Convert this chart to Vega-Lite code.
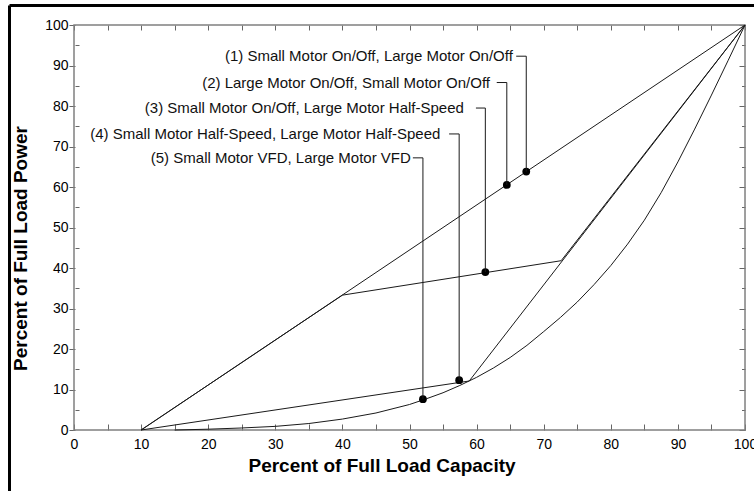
{
  "$schema": "https://vega.github.io/schema/vega-lite/v6.json",
  "width": 745,
  "height": 486,
  "autosize": {"type": "none"},
  "padding": {"left": 9, "top": 5, "right": 0, "bottom": 0},
  "background": "white",
  "config": {"view": {"stroke": null}, "font": "Liberation Sans"},
  "datasets": {
    "frame": [{"x0": 0, "x1": 100, "y0": 0, "y1": 100}],
    "curves": [
      {"curve": "1-2", "x": 10, "y": 0},
      {"curve": "1-2", "x": 100, "y": 100},
      {"curve": "3", "x": 10, "y": 0},
      {"curve": "3", "x": 40, "y": 33.3},
      {"curve": "3", "x": 72.6, "y": 41.8},
      {"curve": "3", "x": 100, "y": 100},
      {"curve": "4", "x": 10, "y": 0},
      {"curve": "4", "x": 58.9, "y": 12.1},
      {"curve": "4", "x": 100, "y": 100},
      {"curve": "5", "x": 15, "y": 0},
      {"curve": "5", "x": 20, "y": 0.2},
      {"curve": "5", "x": 25, "y": 0.5},
      {"curve": "5", "x": 30, "y": 0.9},
      {"curve": "5", "x": 35, "y": 1.6},
      {"curve": "5", "x": 40, "y": 2.7},
      {"curve": "5", "x": 45, "y": 4.2},
      {"curve": "5", "x": 50, "y": 6.3},
      {"curve": "5", "x": 52.5, "y": 7.7},
      {"curve": "5", "x": 55, "y": 9.2},
      {"curve": "5", "x": 57.5, "y": 11},
      {"curve": "5", "x": 60, "y": 13},
      {"curve": "5", "x": 62.5, "y": 15.3},
      {"curve": "5", "x": 65, "y": 17.9},
      {"curve": "5", "x": 67.5, "y": 20.9},
      {"curve": "5", "x": 70, "y": 24.3},
      {"curve": "5", "x": 72.5, "y": 27.8},
      {"curve": "5", "x": 75, "y": 31.6},
      {"curve": "5", "x": 77.5, "y": 35.9},
      {"curve": "5", "x": 80, "y": 40.6},
      {"curve": "5", "x": 82.5, "y": 45.9},
      {"curve": "5", "x": 85, "y": 51.8},
      {"curve": "5", "x": 87.5, "y": 58.6},
      {"curve": "5", "x": 90, "y": 66.2},
      {"curve": "5", "x": 92.5, "y": 74.3},
      {"curve": "5", "x": 95, "y": 82.7},
      {"curve": "5", "x": 97.5, "y": 91.3},
      {"curve": "5", "x": 100, "y": 100}
    ],
    "labels": [
      {"id": 1, "label": "(1) Small Motor On/Off, Large Motor On/Off", "textX": 65.4, "leaderX": 65.9, "labelY": 92.3, "dotX": 67.4, "dotY": 63.8},
      {"id": 2, "label": "(2) Large Motor On/Off, Small Motor On/Off", "textX": 62.0, "leaderX": 63.0, "labelY": 85.8, "dotX": 64.5, "dotY": 60.5},
      {"id": 3, "label": "(3) Small Motor On/Off, Large Motor Half-Speed", "textX": 58.1, "leaderX": 59.9, "labelY": 79.5, "dotX": 61.3, "dotY": 39.0},
      {"id": 4, "label": "(4) Small Motor Half-Speed, Large Motor Half-Speed", "textX": 54.6, "leaderX": 55.9, "labelY": 73.1, "dotX": 57.4, "dotY": 12.3},
      {"id": 5, "label": "(5) Small Motor VFD, Large Motor VFD", "textX": 50.2, "leaderX": 50.5, "labelY": 67.2, "dotX": 52.0, "dotY": 7.6}
    ]
  },
  "resolve": {"axis": {"x": "independent", "y": "independent"}},
  "layer": [
    {
      "data": {"name": "frame"},
      "mark": {"type": "rect", "filled": false, "stroke": "#808080", "strokeWidth": 1.5},
      "encoding": {
        "x": {"field": "x0", "type": "quantitative",
          "scale": {"domain": [-9.687, 101.34], "nice": false, "zero": false},
          "axis": {"orient": "top", "offset": 0, "domainColor": "#000", "domainWidth": 3, "ticks": false, "labels": false, "title": null, "grid": false}},
        "x2": {"field": "x1"},
        "y": {"field": "y0", "type": "quantitative",
          "scale": {"domain": [-15.06, 104.94], "nice": false, "zero": false},
          "axis": {"orient": "left", "offset": 0, "domainColor": "#000", "domainWidth": 3, "ticks": false, "labels": false, "title": null, "grid": false}},
        "y2": {"field": "y1"}
      }
    },
    {
      "data": {"name": "curves"},
      "mark": {"type": "line", "stroke": "#1a1a1a", "strokeWidth": 1},
      "encoding": {
        "x": {"field": "x", "type": "quantitative",
          "scale": {"domain": [-9.687, 101.34], "nice": false, "zero": false},
          "axis": {"orient": "bottom", "offset": -61, "domain": false, "grid": false,
            "values": [0,5,10,15,20,25,30,35,40,45,50,55,60,65,70,75,80,85,90,95,100],
            "tickSize": -6, "tickColor": "#666", "tickWidth": 1,
            "labelExpr": "datum.value % 10 === 0 ? datum.label : ''",
            "labelPadding": 13, "labelFont": "Liberation Sans", "labelFontSize": 14, "labelColor": "#000",
            "labelOverlap": false, "labelFlush": false,
            "title": "Percent of Full Load Capacity", "titleFont": "Liberation Sans", "titleFontSize": 19,
            "titleFontWeight": "bold", "titleColor": "#000", "titlePadding": 5}},
        "y": {"field": "y", "type": "quantitative",
          "scale": {"domain": [-15.06, 104.94], "nice": false, "zero": false},
          "axis": {"orient": "left", "offset": -66, "domain": false, "grid": false,
            "values": [0,5,10,15,20,25,30,35,40,45,50,55,60,65,70,75,80,85,90,95,100],
            "tickSize": {"condition": {"test": "datum.value % 10 === 0", "value": 6}, "value": -4},
            "tickColor": "#666", "tickWidth": 1,
            "labelExpr": "datum.value % 10 === 0 ? datum.label : ''",
            "labelPadding": 1, "labelFont": "Liberation Sans", "labelFontSize": 14, "labelColor": "#000",
            "labelOverlap": false, "labelFlush": false,
            "title": "Percent of Full Load Power", "titleFont": "Liberation Sans", "titleFontSize": 19,
            "titleFontWeight": "bold", "titleColor": "#000", "titlePadding": 14}},
        "detail": {"field": "curve", "type": "nominal"}
      }
    },
    {
      "data": {"name": "labels"},
      "mark": {"type": "circle", "size": 60, "color": "#000", "opacity": 1},
      "encoding": {
        "x": {"field": "dotX", "type": "quantitative",
          "scale": {"domain": [-9.687, 101.34], "nice": false, "zero": false},
          "axis": {"orient": "top", "offset": -20, "domain": false, "grid": false, "labels": false, "title": null,
            "values": [0,5,10,15,20,25,30,35,40,45,50,55,60,65,70,75,80,85,90,95,100],
            "tickSize": -5, "tickColor": "#666", "tickWidth": 1}},
        "y": {"field": "dotY", "type": "quantitative",
          "scale": {"domain": [-15.06, 104.94], "nice": false, "zero": false},
          "axis": {"orient": "right", "offset": -9, "domain": false, "grid": false, "labels": false, "title": null,
            "values": [0,5,10,15,20,25,30,35,40,45,50,55,60,65,70,75,80,85,90,95,100],
            "tickSize": {"condition": {"test": "datum.value % 10 === 0", "value": -6}, "value": -3.5},
            "tickColor": "#666", "tickWidth": 1}}
      }
    },
    {
      "data": {"name": "labels"},
      "mark": {"type": "rule", "stroke": "#1a1a1a", "strokeWidth": 1},
      "encoding": {
        "x": {"field": "leaderX", "type": "quantitative", "axis": null},
        "x2": {"field": "dotX"},
        "y": {"field": "labelY", "type": "quantitative", "axis": null}
      }
    },
    {
      "data": {"name": "labels"},
      "mark": {"type": "rule", "stroke": "#1a1a1a", "strokeWidth": 1},
      "encoding": {
        "x": {"field": "dotX", "type": "quantitative", "axis": null},
        "y": {"field": "labelY", "type": "quantitative", "axis": null},
        "y2": {"field": "dotY"}
      }
    },
    {
      "data": {"name": "labels"},
      "mark": {"type": "text", "align": "right", "baseline": "middle", "font": "Liberation Sans", "fontSize": 15, "color": "#111"},
      "encoding": {
        "x": {"field": "textX", "type": "quantitative", "axis": null},
        "y": {"field": "labelY", "type": "quantitative", "axis": null},
        "text": {"field": "label", "type": "nominal"}
      }
    }
  ]
}
